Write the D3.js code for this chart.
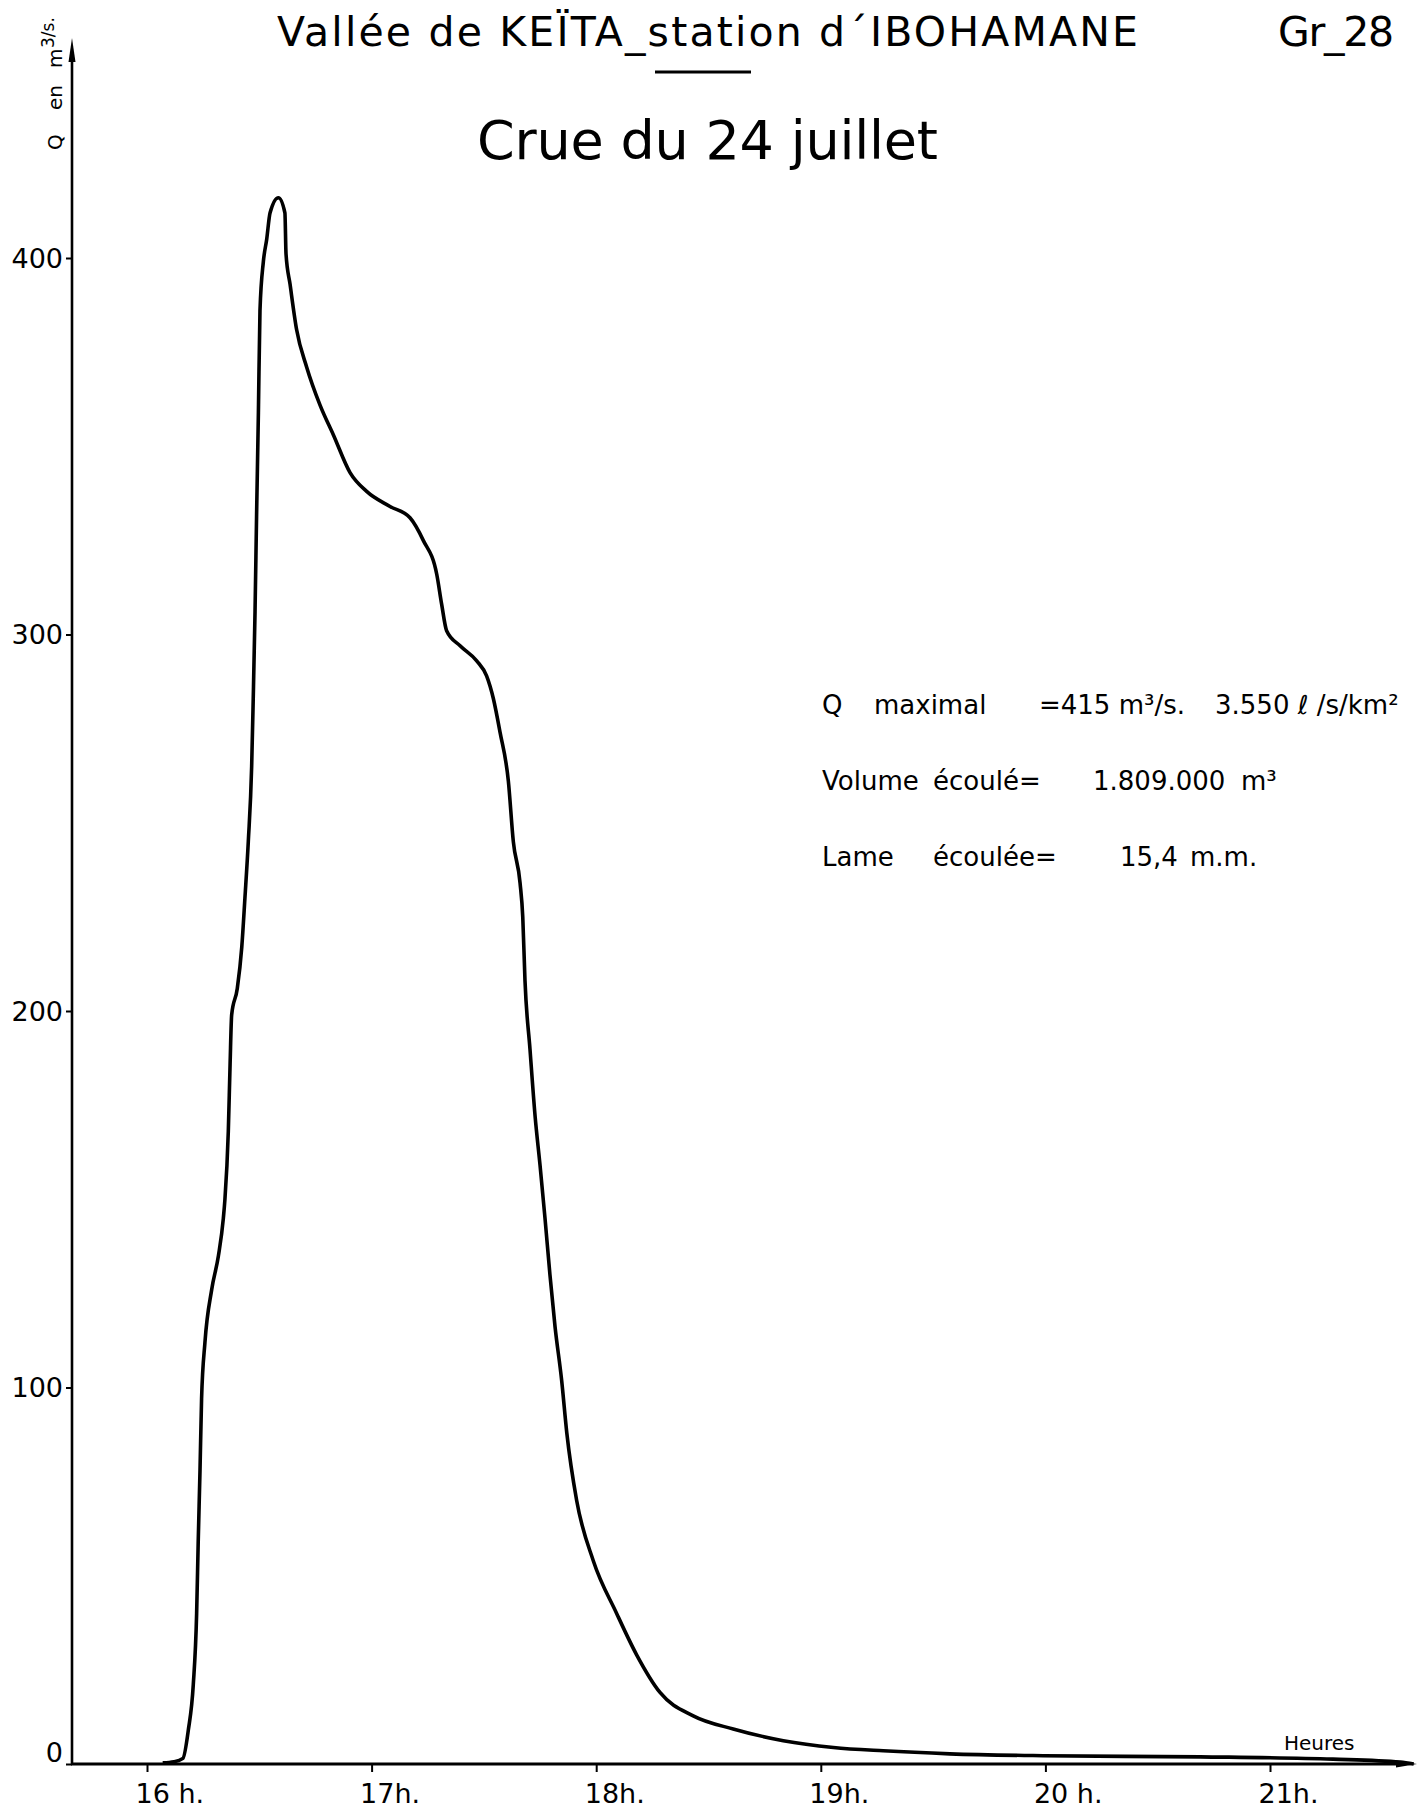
<!DOCTYPE html>
<html>
<head>
<meta charset="utf-8">
<script src="https://cdn.jsdelivr.net/npm/d3@7"></script>
<style>
  body { margin: 0; background: #fff; }
  text { font-family: "DejaVu Sans", sans-serif; fill: #000; }
</style>
</head>
<body>
<div id="chart"></div>
<script>
// hydrograph: time in decimal hours, discharge in m3/s
const hours = [
  16.07, 16.12, 16.16, 16.184, 16.206, 16.221, 16.228, 16.236, 16.243, 16.258,
  16.288, 16.318, 16.34, 16.347, 16.362, 16.37, 16.377, 16.402, 16.422, 16.436,
  16.451, 16.466, 16.473, 16.481, 16.488, 16.496, 16.503, 16.518, 16.533, 16.548,
  16.585, 16.614, 16.619, 16.637, 16.666, 16.711, 16.77, 16.83, 16.904, 16.978,
  17.082, 17.171, 17.23, 17.29, 17.312, 17.334, 17.394, 17.468, 17.512, 17.542,
  17.572, 17.609, 17.631, 17.661, 17.673, 17.683, 17.705, 17.728, 17.75, 17.772,
  17.794, 17.817, 17.846, 17.869, 17.913, 17.987, 18.091, 18.18, 18.284, 18.432,
  18.61, 18.833, 19.056, 19.278, 19.575, 19.99, 20.69, 21.28, 21.58, 21.64
];
const discharge = [
  0.3, 0.6, 1.5, 9, 21, 40, 59, 78, 97, 112,
  126, 135, 145, 150, 168, 186, 199, 206, 217, 230,
  245, 265, 283, 306, 332, 359, 386, 399, 405, 412,
  416, 412, 401, 393, 381, 371, 361, 353, 343, 338,
  334, 331, 325, 316, 308, 301, 297, 293, 289, 283,
  274, 261, 245, 234, 225, 208, 190, 172, 159, 145,
  130, 116, 102, 88, 70, 54, 40, 29, 19, 12.8,
  9.3, 6.2, 4.4, 3.5, 2.7, 2.2, 1.9, 1.3, 0.5, 0
];
const yTicks = [0, 100, 200, 300, 400];
const xTicks = [16, 17, 18, 19, 20, 21];
const xTickLabels = ["16 h.", "17h.", "18h.", "19h.", "20 h.", "21h."];

const width = 1417, height = 1811;
const axisX = 72, axisY = 1764;

const svg = d3.select("#chart").append("svg")
    .attr("width", width)
    .attr("height", height);

const x = d3.scaleLinear().domain([16, 21]).range([147, 1270]);
const y = d3.scaleLinear().domain([0, 400]).range([axisY, 258]);

// titles
svg.append("text")
    .attr("x", 277).attr("y", 46)
    .attr("font-size", 41)
    .attr("textLength", 861).attr("lengthAdjust", "spacing")
    .text("Vallée de KEÏTA_station d´IBOHAMANE");
svg.append("line")
    .attr("x1", 655).attr("x2", 751)
    .attr("y1", 72).attr("y2", 72)
    .attr("stroke", "#000").attr("stroke-width", 3);
svg.append("text")
    .attr("x", 1278).attr("y", 46)
    .attr("font-size", 41)
    .attr("textLength", 116).attr("lengthAdjust", "spacing")
    .text("Gr_28");
svg.append("text")
    .attr("x", 477).attr("y", 159)
    .attr("font-size", 54)
    .attr("textLength", 461).attr("lengthAdjust", "spacing")
    .text("Crue du 24 juillet");

// y axis
const yAxis = svg.append("g")
    .attr("transform", `translate(${axisX},0)`)
    .call(d3.axisLeft(y).tickValues(yTicks).tickSize(6).tickPadding(3));
yAxis.select(".domain").remove();
yAxis.selectAll(".tick line").attr("stroke", "#000").attr("stroke-width", 2);
yAxis.selectAll(".tick text")
    .attr("font-size", 27)
    .attr("font-family", "DejaVu Sans")
    .attr("dy", d => d === 0 ? "-0.1em" : "0.34em");

svg.append("line")
    .attr("x1", axisX).attr("x2", axisX)
    .attr("y1", axisY + 1).attr("y2", 56)
    .attr("stroke", "#000").attr("stroke-width", 2.6);
svg.append("path")
    .attr("d", `M${axisX},38 L${axisX - 3.5},62 L${axisX + 3.5},62 Z`)
    .attr("fill", "#000");

// y axis title, rotated
const yTitle = svg.append("g").attr("transform", "translate(62,150) rotate(-90)");
yTitle.append("text").attr("x", 0).attr("font-size", 20).text("Q");
yTitle.append("text").attr("x", 40).attr("font-size", 20).text("en");
yTitle.append("text").attr("x", 82).attr("font-size", 20).text("m");
yTitle.append("text").attr("x", 102).attr("y", -8).attr("font-size", 17).text("3/s.");

// x axis
const xAxis = svg.append("g")
    .attr("transform", `translate(0,${axisY})`)
    .call(d3.axisBottom(x).tickValues(xTicks).tickSize(8)
        .tickFormat((d, i) => xTickLabels[i]));
xAxis.select(".domain").remove();
xAxis.selectAll(".tick line").attr("stroke", "#000").attr("stroke-width", 2);
xAxis.selectAll(".tick text")
    .attr("font-size", 27)
    .attr("font-family", "DejaVu Sans")
    .attr("text-anchor", "start")
    .attr("x", -12)
    .attr("y", 39)
    .attr("dy", 0);

svg.append("line")
    .attr("x1", axisX - 1).attr("x2", 1400)
    .attr("y1", axisY).attr("y2", axisY)
    .attr("stroke", "#000").attr("stroke-width", 3);
svg.append("path")
    .attr("d", `M1417,${axisY} L1396,${axisY - 3.5} L1396,${axisY + 3.5} Z`)
    .attr("fill", "#000");

svg.append("text")
    .attr("x", 1284).attr("y", 1750)
    .attr("font-size", 20)
    .text("Heures");

// the flood curve
const points = hours.map((h, i) => [h, discharge[i]]);
const line = d3.line()
    .x(d => x(d[0]))
    .y(d => y(d[1]))
    .curve(d3.curveMonotoneX);

svg.append("path")
    .datum(points)
    .attr("d", line)
    .attr("fill", "none")
    .attr("stroke", "#000")
    .attr("stroke-width", 3.6)
    .attr("stroke-linejoin", "round");

// notes on the right
const notes = [
  { t: "Q", x: 822, y: 714 },
  { t: "maximal", x: 874, y: 714 },
  { t: "=415 m³/s.", x: 1039, y: 714 },
  { t: "3.550 ℓ /s/km²", x: 1215, y: 714 },
  { t: "Volume", x: 822, y: 790 },
  { t: "écoulé=", x: 933, y: 790 },
  { t: "1.809.000", x: 1093, y: 790 },
  { t: "m³", x: 1241, y: 790 },
  { t: "Lame", x: 822, y: 866 },
  { t: "écoulée=", x: 933, y: 866 },
  { t: "15,4", x: 1120, y: 866 },
  { t: "m.m.", x: 1190, y: 866 }
];
svg.append("g").selectAll("text")
    .data(notes)
    .enter().append("text")
    .attr("x", d => d.x)
    .attr("y", d => d.y)
    .attr("font-size", 26)
    .text(d => d.t);
</script>
</body>
</html>
